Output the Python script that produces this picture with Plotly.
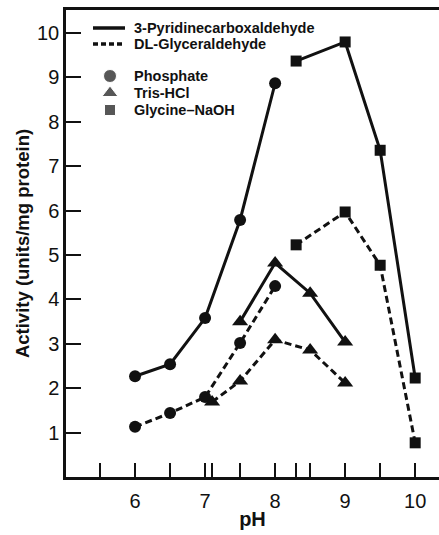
import plotly.graph_objects as go

# pH values
ph_phos = [6, 6.5, 7, 7.5, 8]
ph_tris_pyr = [7.5, 8, 8.5, 9]
ph_tris_gly = [7.1, 7.5, 8, 8.5, 9]
ph_glyc = [8.3, 9, 9.5, 10]

# Activity (units/mg protein) - 3-Pyridinecarboxaldehyde (solid)
pyr_phos = [2.27, 2.54, 3.58, 5.79, 8.87]
pyr_tris = [3.5, 4.82, 4.14, 3.04]
pyr_glyc = [9.37, 9.8, 7.36, 2.23]

# Activity - DL-Glyceraldehyde (dashed)
gly_phos = [1.13, 1.44, 1.8, 3.02, 4.3]
gly_tris = [1.69, 2.16, 3.09, 2.86, 2.12]
gly_glyc = [5.23, 5.97, 4.77, 0.77]

x_tickvals = [5.5, 6, 6.5, 7, 7.1, 7.5, 8, 8.3, 8.5, 9, 9.5, 10]
x_ticktext = ["", "6", "", "7", "", "", "8", "", "", "9", "", "10"]
y_tickvals = [1, 2, 3, 4, 5, 6, 7, 8, 9, 10]

substrate_names = ["3-Pyridinecarboxaldehyde", "DL-Glyceraldehyde"]
buffer_names = ["Phosphate", "Tris-HCl", "Glycine–NaOH"]

FONT = "Liberation Sans"
BLACK = "#111111"
DASH = "7px,4px"

# layout geometry (pixels)
W, H = 439, 535
L, R, T, B = 66, 0, 10, 58

fig = go.Figure()

series = [
    (ph_phos, pyr_phos, "solid", "circle", 12),
    (ph_tris_pyr, pyr_tris, "solid", "triangle-up", 14),
    (ph_glyc, pyr_glyc, "solid", "square", 11),
    (ph_phos, gly_phos, DASH, "circle", 12),
    (ph_tris_gly, gly_tris, DASH, "triangle-up", 14),
    (ph_glyc, gly_glyc, DASH, "square", 11),
]
for xs, ys, dash, sym, sz in series:
    fig.add_trace(go.Scatter(
        x=xs, y=ys, mode="lines+markers",
        line=dict(color=BLACK, width=3, dash=dash),
        marker=dict(symbol=sym, size=sz, color=BLACK),
        showlegend=False, hoverinfo="x+y",
    ))

# ---- custom legend, drawn on a hidden pixel-mapped overlay axis ----
leg_line_x = (93, 125)
leg_line_y = [28, 44]
leg_text_x = 132
leg_mark_x = 110
leg_mark_y = [76, 93, 110]
leg_syms = [("circle", 13), ("triangle-up", 14), ("square", 11)]
LEG_FONT = dict(size=14.5, family=FONT, color=BLACK, weight="bold")

for name, y, dash in zip(substrate_names, leg_line_y, ["solid", "5px,3px"]):
    fig.add_shape(type="line", xref="x2", yref="y2",
                  x0=leg_line_x[0], x1=leg_line_x[1], y0=y, y1=y,
                  line=dict(color=BLACK, width=3.5, dash=dash))
    fig.add_annotation(xref="x2", yref="y2", x=leg_text_x, y=y, text=name,
                       showarrow=False, xanchor="left", yanchor="middle", font=LEG_FONT)

fig.add_trace(go.Scatter(
    x=[leg_mark_x] * 3, y=leg_mark_y, mode="markers", xaxis="x2", yaxis="y2",
    marker=dict(symbol=[s for s, _ in leg_syms], size=[z for _, z in leg_syms], color=BLACK),
    showlegend=False, hoverinfo="skip",
))
for name, y in zip(buffer_names, leg_mark_y):
    fig.add_annotation(xref="x2", yref="y2", x=leg_text_x, y=y, text=name,
                       showarrow=False, xanchor="left", yanchor="middle", font=LEG_FONT)

fig.update_layout(
    width=W, height=H,
    margin=dict(l=L, r=R, t=T, b=B, autoexpand=False),
    paper_bgcolor="white", plot_bgcolor="white",
    font=dict(family=FONT, color=BLACK),
    showlegend=False,
    xaxis=dict(range=[5.014, 10.34], tickvals=x_tickvals, ticktext=x_ticktext,
               ticks="inside", ticklen=14, tickwidth=2, tickcolor=BLACK,
               showline=True, linewidth=2.5, linecolor=BLACK, mirror=True,
               showgrid=False, zeroline=False, automargin=False,
               tickfont=dict(size=20, family=FONT), ticklabelstandoff=4,
               title=dict(text="pH", font=dict(size=20, family=FONT, weight="bold"), standoff=2)),
    yaxis=dict(range=[0, 10.52], tickvals=y_tickvals,
               ticks="inside", ticklen=15, tickwidth=2, tickcolor=BLACK,
               showline=True, linewidth=2.5, linecolor=BLACK,
               showgrid=False, zeroline=False, automargin=False,
               tickfont=dict(size=20, family=FONT),
               title=dict(text="Activity (units/mg protein)", font=dict(size=18.5, family=FONT, weight="bold"), standoff=3)),
    xaxis2=dict(overlaying="x", range=[L, W - R], visible=False, fixedrange=True),
    yaxis2=dict(overlaying="y", range=[H - B, T], visible=False, fixedrange=True),
)

fig.write_html("out.html", config={"displayModeBar": False},
               post_script="document.body.style.margin='0';document.body.style.overflow='hidden';")
